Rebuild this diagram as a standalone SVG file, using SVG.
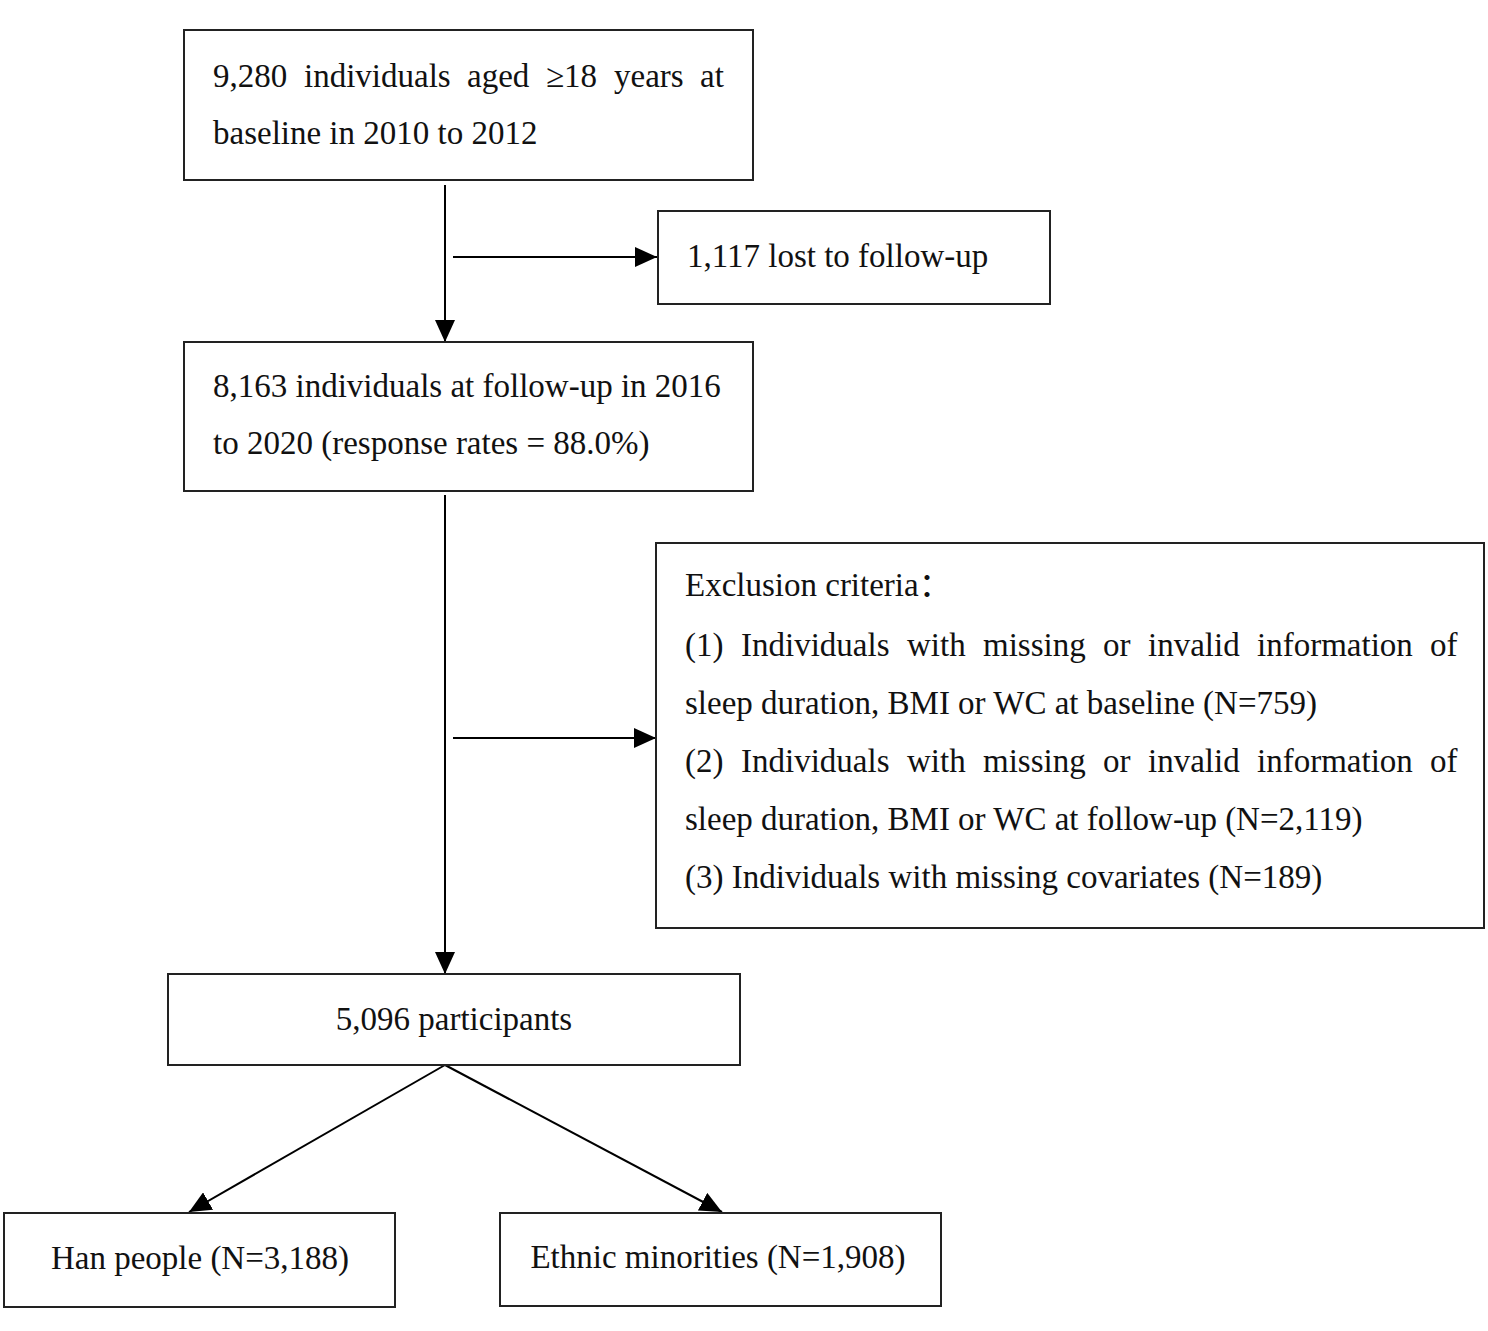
<svg xmlns="http://www.w3.org/2000/svg" width="1488" height="1331" viewBox="0 0 1488 1331">
<style>
.box{fill:#fff;stroke:#222;stroke-width:2}
.t{font-family:"Liberation Serif","Times New Roman","Noto Sans CJK SC",serif;font-size:33px;fill:#111}
.c{text-anchor:middle}
.ln{stroke:#000;stroke-width:2;fill:none}
</style>
<defs>
<marker id="ah" markerUnits="userSpaceOnUse" markerWidth="22" markerHeight="20" viewBox="0 0 22 20" refX="22" refY="10" orient="auto">
<path d="M0,0 L22,10 L0,20 z" fill="#000"/>
</marker>
</defs>
<rect width="1488" height="1331" fill="#fff"/>
<g id="connectors">
<line class="ln" x1="445" y1="185" x2="445" y2="342" marker-end="url(#ah)"/>
<line class="ln" x1="453" y1="257" x2="657" y2="257" marker-end="url(#ah)"/>
<line class="ln" x1="445" y1="495" x2="445" y2="974" marker-end="url(#ah)"/>
<line class="ln" x1="453" y1="738" x2="656" y2="738" marker-end="url(#ah)"/>
<line class="ln" x1="445" y1="1065" x2="189" y2="1212" marker-end="url(#ah)"/>
<line class="ln" x1="445" y1="1065" x2="722" y2="1212" marker-end="url(#ah)"/>
</g>
<g id="baseline">
<rect class="box" x="184" y="30" width="569" height="150"/>
<text class="t" y="87"><tspan x="213">9,280</tspan><tspan x="304">individuals</tspan><tspan x="467">aged</tspan><tspan x="546">≥18</tspan><tspan x="614">years</tspan><tspan x="700">at</tspan></text>
<text class="t" x="213" y="144">baseline in 2010 to 2012</text>
</g>
<g id="lost">
<rect class="box" x="658" y="211" width="392" height="93"/>
<text class="t" x="687" y="267">1,117 lost to follow-up</text>
</g>
<g id="followup">
<rect class="box" x="184" y="342" width="569" height="149"/>
<text class="t" x="213" y="397">8,163 individuals at follow-up in 2016</text>
<text class="t" x="213" y="454">to 2020 (response rates = 88.0%)</text>
</g>
<g id="exclusion">
<rect class="box" x="656" y="543" width="828" height="385"/>
<text class="t" x="685" y="596">Exclusion criteria：</text>
<text class="t" y="656"><tspan x="685">(1)</tspan><tspan x="741">Individuals</tspan><tspan x="907">with</tspan><tspan x="983">missing</tspan><tspan x="1103">or</tspan><tspan x="1148">invalid</tspan><tspan x="1257">information</tspan><tspan x="1430">of</tspan></text>
<text class="t" x="685" y="714">sleep duration, BMI or WC at baseline (N=759)</text>
<text class="t" y="772"><tspan x="685">(2)</tspan><tspan x="741">Individuals</tspan><tspan x="907">with</tspan><tspan x="983">missing</tspan><tspan x="1103">or</tspan><tspan x="1148">invalid</tspan><tspan x="1257">information</tspan><tspan x="1430">of</tspan></text>
<text class="t" x="685" y="830">sleep duration, BMI or WC at follow-up (N=2,119)</text>
<text class="t" x="685" y="888">(3) Individuals with missing covariates (N=189)</text>
</g>
<g id="participants">
<rect class="box" x="168" y="974" width="572" height="91"/>
<text class="t c" x="454" y="1030">5,096 participants</text>
</g>
<g id="han">
<rect class="box" x="4" y="1213" width="391" height="94"/>
<text class="t c" x="200" y="1269">Han people (N=3,188)</text>
</g>
<g id="ethnic">
<rect class="box" x="500" y="1213" width="441" height="93"/>
<text class="t c" x="718" y="1268">Ethnic minorities (N=1,908)</text>
</g>
</svg>
